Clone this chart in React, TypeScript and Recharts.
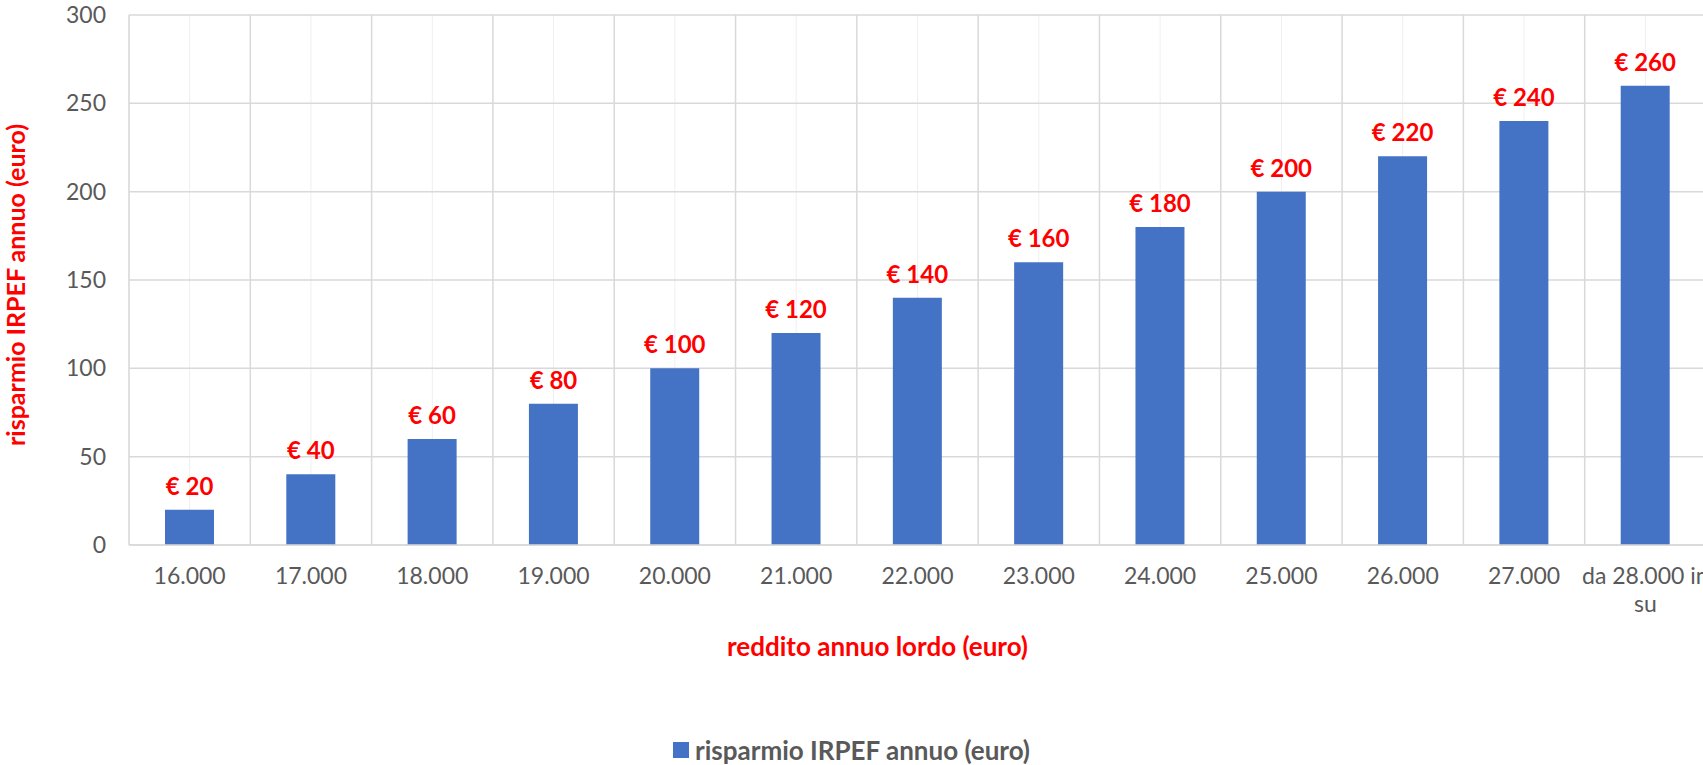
import { BarChart, Bar, XAxis, YAxis, CartesianGrid, LabelList, Label, Legend } from 'recharts';

const categories = ['16.000', '17.000', '18.000', '19.000', '20.000', '21.000', '22.000', '23.000', '24.000', '25.000', '26.000', '27.000', 'da 28.000 in su'];
const savings = [20, 40, 60, 80, 100, 120, 140, 160, 180, 200, 220, 240, 260];
const yTicks = [0, 50, 100, 150, 200, 250, 300];

const seriesName = 'risparmio IRPEF annuo (euro)';
const font = 'Lato, "Open Sans", sans-serif';

const data = categories.map((c, i) => ({ name: c, value: savings[i] }));

// long category names wrap their last word onto a second line, like Excel does
const CategoryTick = (props: any) => {
    const { x, y, payload } = props;
    const value: string = payload.value;
    const words = value.split(' ');
    const lines = value.length > 12 ? [words.slice(0, -1).join(' '), words[words.length - 1]] : [value];
    return (
        <text x={x} y={y} textAnchor="middle" fill="#595959" style={{ fontSize: 23, fontFamily: font }}>
            {lines.map((line, i) => (
                <tspan key={i} x={x} dy={i === 0 ? '0.9em' : 28}>
                    {line}
                </tspan>
            ))}
        </text>
    );
};

const LegendBox = () => (
    <div style={{ display: 'flex', justifyContent: 'center', alignItems: 'center', fontFamily: font }}>
        <span style={{ width: 16, height: 16, background: '#4472C4', marginRight: 6 }} />
        <span style={{ fontSize: 26, fontWeight: 700, color: '#595959' }}>{seriesName}</span>
    </div>
);

export default function App() {
    return (
        <div style={{ position: 'absolute', left: 0, top: 0, width: 1703, height: 765, overflow: 'hidden', background: '#fff' }}>
            <BarChart width={1706} height={765} data={data} margin={{ top: 15, right: 0, left: 0, bottom: 0 }}>
                <CartesianGrid stroke="#efefef" horizontal={false} />
                <CartesianGrid
                    stroke="#d9d9d9"
                    strokeWidth={1.5}
                    verticalCoordinatesGenerator={({ offset }: any) =>
                        categories.map((_, i) => offset.left + (i * offset.width) / categories.length).concat(offset.left + offset.width)
                    }
                />
                <XAxis
                    dataKey="name"
                    height={220}
                    interval={0}
                    tick={<CategoryTick />}
                    tickLine={false}
                    tickSize={0}
                    tickMargin={18}
                    axisLine={{ stroke: '#d9d9d9', strokeWidth: 1.5 }}
                >
                    <Label
                        value="reddito annuo lordo (euro)"
                        position="center"
                        dx={-40}
                        dy={-8}
                        style={{ fill: '#FF0000', fontSize: 26, fontWeight: 700, fontFamily: font }}
                    />
                </XAxis>
                <YAxis
                    width={129}
                    domain={[0, 300]}
                    ticks={yTicks}
                    axisLine={false}
                    tickLine={false}
                    tickSize={0}
                    tickMargin={23}
                    tick={{ fill: '#595959', fontSize: 23, fontFamily: font }}
                >
                    <Label
                        value={seriesName}
                        angle={-90}
                        position="center"
                        dx={-48}
                        dy={5}
                        style={{ fill: '#FF0000', fontSize: 25, fontWeight: 700, fontFamily: font, textAnchor: 'middle' }}
                    />
                </YAxis>
                <Legend
                    layout="vertical"
                    align="center"
                    verticalAlign="middle"
                    content={<LegendBox />}
                    wrapperStyle={{ top: 734, left: 0, width: 1703 }}
                />
                <Bar dataKey="value" name={seriesName} fill="#4472C4" barSize={49} isAnimationActive={false}>
                    <LabelList
                        dataKey="value"
                        position="top"
                        offset={15}
                        formatter={(v: any) => `€ ${v}`}
                        style={{ fill: '#FF0000', fontSize: 24, fontWeight: 700, fontFamily: font }}
                    />
                </Bar>
            </BarChart>
        </div>
    );
}
